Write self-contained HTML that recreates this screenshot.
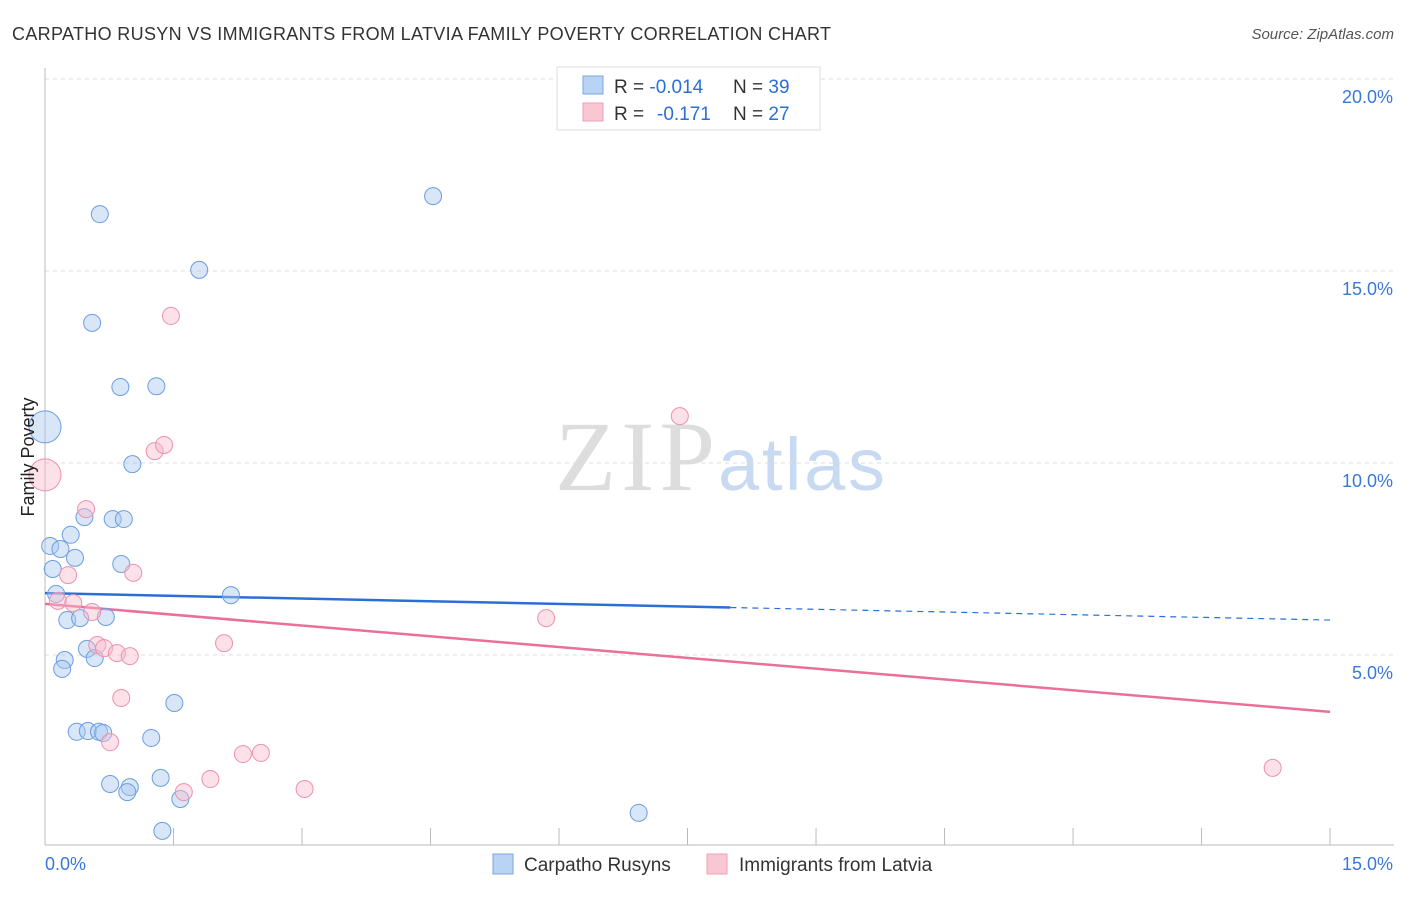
<!DOCTYPE html>
<html><head><meta charset="utf-8"><style>
body{margin:0;background:#fff;font-family:"Liberation Sans",sans-serif;}
</style></head><body>
<svg width="1406" height="892" viewBox="0 0 1406 892" xmlns="http://www.w3.org/2000/svg">
<text x="12" y="40" font-size="18" fill="#333" textLength="819">CARPATHO RUSYN VS IMMIGRANTS FROM LATVIA FAMILY POVERTY CORRELATION CHART</text>
<text x="1394" y="39" font-size="15" fill="#555" font-style="italic" text-anchor="end">Source: ZipAtlas.com</text>
<text x="555" y="490" font-size="100" font-family="Liberation Serif,serif" fill="#ddd" textLength="160">ZIP</text>
<text x="718" y="490" font-size="74" fill="#c8daf2" textLength="167">atlas</text>
<g id="grid"></g><g id="axes"></g><g id="lines"></g><g id="pts"></g>
<text x="34" y="457" font-size="18" fill="#222" text-anchor="middle" transform="rotate(-90 34 457)">Family Poverty</text>
<g>
<rect x="557" y="67" width="263" height="63" fill="#fff" stroke="#ddd"/>
<rect x="583" y="76" width="20" height="18" fill="#b9d3f4" stroke="#7aa7e0"/>
<rect x="583" y="103" width="20" height="18" fill="#f9c7d4" stroke="#f0a0b8"/>
<text x="614" y="93" font-size="19" fill="#333">R = <tspan fill="#2a6fd6">-0.014</tspan><tspan x="733">N = </tspan><tspan fill="#2a6fd6">39</tspan></text>
<text x="614" y="120" font-size="19" fill="#333">R = <tspan x="657" fill="#2a6fd6">-0.171</tspan><tspan x="733">N = </tspan><tspan fill="#2a6fd6">27</tspan></text>
</g>
<g>
<rect x="493" y="854" width="20" height="20" fill="#b9d3f4" stroke="#7aa7e0"/>
<text x="524" y="871" font-size="19" fill="#333">Carpatho Rusyns</text>
<rect x="707" y="854" width="20" height="20" fill="#f9c7d4" stroke="#f0a0b8"/>
<text x="739" y="871" font-size="19" fill="#333">Immigrants from Latvia</text>
</g>
</svg>
<script>
const blueX=[.64,4.53,1.80,.55,.88,1.30,0,1.02,.46,.79,.92,.30,.06,.18,.35,.89,.09,2.17,.13,.26,.41,.71,.49,.23,.58,.2,1.51,.37,.5,.63,.68,1.24,1.35,.76,.99,.96,1.58,1.37,6.93];
const blueY=[16.48,16.95,15.03,13.65,11.98,12.0,10.94,9.97,8.59,8.54,8.54,8.13,7.84,7.76,7.53,7.37,7.24,6.56,6.59,5.91,5.96,5.99,5.16,4.87,4.92,4.64,3.75,3.0,3.02,3.0,2.97,2.84,1.8,1.64,1.56,1.43,1.25,.42,.89];
const pinkX=[1.47,1.28,1.39,0,7.41,.48,.27,1.03,.15,.33,.55,5.85,2.09,.61,.69,.84,.99,.89,.76,2.31,2.52,1.93,1.62,3.03,14.33];
const pinkY=[13.83,10.31,10.47,9.69,11.22,8.8,7.08,7.14,6.41,6.35,6.12,5.96,5.31,5.26,5.18,5.05,4.97,3.88,2.73,2.42,2.45,1.77,1.43,1.51,2.06];
const yTicks=[5,10,15,20];
const yTickLabels=["5.0%","10.0%","15.0%","20.0%"];
const xTickLabels=["0.0%","15.0%"];
const blueTrend=[6.61,5.91];
const pinkTrend=[6.33,3.52];
const NS="http://www.w3.org/2000/svg";
const sx=v=>45+v*85.67, sy=v=>847-v*38.4;
function mk(p,t,a){const e=document.createElementNS(NS,t);for(const k in a)e.setAttribute(k,a[k]);document.getElementById(p).appendChild(e);return e;}
yTicks.forEach((t,i)=>{
 const g=mk('grid','line',{x1:45,x2:1394,y1:sy(t),y2:sy(t),stroke:'#ddd','stroke-dasharray':'4,4'});
 
 
 const l=mk('axes','text',{x:1393,y:sy(t)+24,'font-size':18,fill:'#3a78d8','text-anchor':'end'});
 l.textContent=yTickLabels[i];
 
 
});
const ax=mk('axes','line',{x1:45,x2:1394,y1:845,y2:845,stroke:'#bbb'});


const ay=mk('axes','line',{x1:45,x2:45,y1:68,y2:845,stroke:'#bbb'});


for(let i=1;i<=10;i++){const t=mk('axes','line',{x1:sx(i*1.5),x2:sx(i*1.5),y1:828,y2:845,stroke:'#bbb'});
 
 }
[[0,'start',45],[15,'end',1393]].forEach((d,i)=>{const t=mk('axes','text',{x:d[2],y:870,'font-size':18,fill:'#3a78d8','text-anchor':d[1]});t.textContent=xTickLabels[i];
 
 });
function pts(X,Y,f,s,n){X.forEach((x,i)=>{const big=x===0;const c=mk('pts','circle',{cx:sx(x),cy:sy(Y[i]),r:big?16:8.5,fill:f,'fill-opacity':.45,stroke:s,'stroke-width':1});
 
 });}
pts(blueX,blueY,'#a8c8f0','#6b9ee0','carpatho-rusyn-point');
pts(pinkX,pinkY,'#f8bccb','#ec92ae','latvia-immigrant-point');
const bm=blueTrend[0]+(blueTrend[1]-blueTrend[0])*(8/15);
const b1=mk('lines','line',{x1:sx(0),y1:sy(blueTrend[0]),x2:sx(8),y2:sy(bm),stroke:'#2a6fd6','stroke-width':2.5});


const b2=mk('lines','line',{x1:sx(8),y1:sy(bm),x2:sx(15),y2:sy(blueTrend[1]),stroke:'#2a6fd6','stroke-width':1.2,'stroke-dasharray':'6,5'});


const p1=mk('lines','line',{x1:sx(0),y1:sy(pinkTrend[0]),x2:sx(15),y2:sy(pinkTrend[1]),stroke:'#e8709a','stroke-width':2.5});


</script>
</body></html>
